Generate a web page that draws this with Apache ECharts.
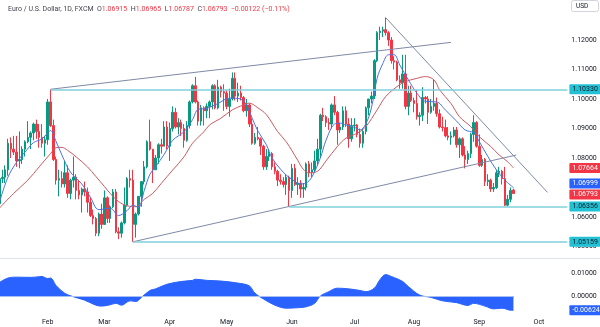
<!DOCTYPE html>
<html><head><meta charset="utf-8">
<script src="https://cdn.jsdelivr.net/npm/echarts/dist/echarts.min.js"></script>
<style>html,body{margin:0;padding:0;background:#fff}#c{width:600px;height:327px}</style>
</head><body><div id="c"></div>
<script>
// ---- categories: trading days (weekdays) ----
const firstDay = '2023-01-09';
const lastDay = '2023-10-16';

// ---- daily candles, Jan 9 .. Sep 19 2023 (one line per week) ----
const opens = [
1.0645,1.0730,1.0735,1.0760,1.0850, 1.0830,1.0820,1.0790,1.0795,1.0830, 1.0855,1.0870,1.0885,1.0915,1.0890, 1.0870,1.0850,1.0862,1.0990,1.0910,
1.0795,1.0725,1.0730,1.0712,1.0750, 1.0680,1.0725,1.0735,1.0690,1.0675, 1.0695,1.0685,1.0650,1.0605,1.0595, 1.0545,1.0610,1.0575,1.0665,1.0595,
1.0635,1.0685,1.0550,1.0545,1.0580, 1.0640,1.0730,1.0725,1.0575,1.0610, 1.0670,1.0720,1.0770,1.0855,1.0830, 1.0760,1.0800,1.0845,1.0840,1.0905,
1.0840,1.0900,1.0955,1.0905,1.0920, 1.0900,1.0860,1.0910,1.0990,1.1045, 1.0990,1.0925,1.0970,1.0960,1.0975, 1.0990,1.1045,1.0970,1.1040,1.1025,
1.1020,1.0975,1.1000,1.1070,1.1010, 1.1020,1.1005,1.0960,1.0980,1.0915, 1.0850,1.0870,1.0865,1.0840,1.0770, 1.0805,1.0815,1.0770,1.0755,1.0725,
1.0720,1.0710,1.0735,1.0690,1.0765, 1.0710,1.0715,1.0695,1.0700,1.0780, 1.0750,1.0760,1.0790,1.0830,1.0945, 1.0940,1.0920,1.0915,1.0980,1.0955,
1.0895,1.0905,1.0960,1.0915,1.0865, 1.0910,1.0912,1.0880,1.0850,1.0890, 1.0970,1.1000,1.1010,1.1130,1.1225, 1.1230,1.1235,1.1225,1.1200,1.1130,
1.1125,1.1065,1.1055,1.1085,1.0975, 1.1020,1.0995,1.0985,1.0940,1.0945, 1.1005,1.1000,1.0955,1.0975,1.0985, 1.0950,1.0905,1.0903,1.0875,1.0870,
1.0875,1.0895,1.0845,1.0865,1.0810, 1.0795,1.0815,1.0880,1.0920,1.0840, 1.0775,1.0795,1.0720,1.0725,1.0695, 1.0700,1.0750,1.0755,1.0730,1.0640,
1.0660,1.06915
];
const highs = [
1.0760,1.0760,1.0775,1.0865,1.0870, 1.0875,1.0875,1.0890,1.0840,1.0860, 1.0925,1.0890,1.0920,1.0930,1.0915, 1.0915,1.0875,1.1000,1.1033,1.0930,
1.0805,1.0760,1.0755,1.0790,1.0775, 1.0730,1.0805,1.0745,1.0725,1.0700, 1.0720,1.0700,1.0665,1.0625,1.0600, 1.0615,1.0645,1.0690,1.0670,1.0640,
1.0695,1.0695,1.0565,1.0585,1.0700, 1.0735,1.0760,1.0760,1.0615,1.0670, 1.0720,1.0790,1.0860,1.0930,1.0830, 1.0810,1.0850,1.0865,1.0925,1.0925,
1.0920,1.0975,1.0970,1.0935,1.0930, 1.0915,1.0925,1.0995,1.1050,1.1075, 1.0995,1.0980,1.0975,1.0985,1.0995, 1.1050,1.1050,1.1065,1.1045,1.1050,
1.1030,1.1035,1.1090,1.1090,1.1055, 1.1045,1.1010,1.1000,1.0985,1.0935, 1.0885,1.0905,1.0870,1.0845,1.0830, 1.0830,1.0820,1.0785,1.0760,1.0745,
1.0735,1.0745,1.0740,1.0780,1.0780, 1.0735,1.0725,1.0715,1.0785,1.0790, 1.0785,1.0825,1.0865,1.0950,1.0970, 1.0945,1.0935,1.0985,1.1010,1.0960,
1.0920,1.0975,1.0975,1.0935,1.0935, 1.0935,1.0915,1.0900,1.0900,1.0975, 1.1000,1.1025,1.1135,1.1230,1.1245, 1.1245,1.1276,1.1230,1.1210,1.1145,
1.1130,1.1080,1.1150,1.1150,1.1045, 1.1045,1.1005,1.1030,1.0955,1.1040, 1.1010,1.1010,1.1000,1.1065,1.1005, 1.0965,1.0940,1.0930,1.0905,1.0890,
1.0905,1.0905,1.0870,1.0870,1.0840, 1.0825,1.0885,1.0945,1.0925,1.0880, 1.0810,1.0800,1.0745,1.0730,1.0715, 1.0760,1.0770,1.0760,1.0770,1.0675,
1.0700,1.06965
];
const lows = [
1.0640,1.0715,1.0715,1.0740,1.0800, 1.0810,1.0770,1.0765,1.0780,1.0805, 1.0850,1.0830,1.0860,1.0865,1.0835, 1.0835,1.0805,1.0845,1.0905,1.0790,
1.0710,1.0670,1.0700,1.0700,1.0665, 1.0660,1.0700,1.0660,1.0660,1.0615, 1.0670,1.0615,1.0600,1.0575,1.0535, 1.0535,1.0560,1.0575,1.0580,1.0580,
1.0630,1.0545,1.0525,1.0530,1.0575, 1.0635,1.0700,1.05159,1.0530,1.0605, 1.0635,1.0710,1.0765,1.0825,1.0715, 1.0760,1.0780,1.0815,1.0840,1.0830,
1.0790,1.0890,1.0900,1.0880,1.0875, 1.0835,1.0855,1.0900,1.0985,1.0985, 1.0910,1.0910,1.0910,1.0935,1.0935, 1.0965,1.0965,1.0965,1.1005,1.0960,
1.0965,1.0940,1.0995,1.0995,1.0990, 1.0995,1.0955,1.0940,1.0905,1.0845, 1.0845,1.0860,1.0810,1.0760,1.0760, 1.0790,1.0760,1.0745,1.0705,1.0710,
1.0700,1.0675,1.06356,1.0665,1.0705, 1.0675,1.0665,1.0665,1.0690,1.0735, 1.0735,1.0750,1.0775,1.0800,1.0925, 1.0905,1.0895,1.0900,1.0945,1.0845,
1.0885,1.0895,1.0905,1.0835,1.0855, 1.0890,1.0870,1.0835,1.0835,1.0880, 1.0945,1.0985,1.1000,1.1125,1.1200, 1.1210,1.1215,1.1180,1.1120,1.1100,
1.1060,1.1035,1.1035,1.0965,1.0945, 1.0990,1.0955,1.0930,1.0910,1.0925, 1.0985,1.0915,1.0950,1.0960,1.0940, 1.0900,1.0890,1.0870,1.0860,1.0845,
1.0870,1.0835,1.0800,1.0805,1.0765, 1.0780,1.0800,1.0855,1.0835,1.0770, 1.0770,1.0705,1.0705,1.0685,1.0685, 1.0695,1.0735,1.0710,1.0637,1.0636,
1.0650,1.06787
];
const closes = [
1.0730,1.0735,1.0760,1.0850,1.0830, 1.0820,1.0790,1.0795,1.0830,1.0855, 1.0870,1.0885,1.0915,1.0890,1.0870, 1.0850,1.0862,1.0990,1.0910,1.0795,
1.0725,1.0730,1.0712,1.0750,1.0680, 1.0725,1.0735,1.0690,1.0675,1.0695, 1.0685,1.0650,1.0605,1.0595,1.0545, 1.0610,1.0575,1.0665,1.0595,1.0635,
1.0685,1.0550,1.0545,1.0580,1.0640, 1.0730,1.0725,1.0575,1.0610,1.0670, 1.0720,1.0770,1.0855,1.0830,1.0760, 1.0800,1.0845,1.0840,1.0905,1.0840,
1.0900,1.0955,1.0905,1.0920,1.0900, 1.0860,1.0910,1.0990,1.1045,1.0990, 1.0925,1.0970,1.0960,1.0975,1.0990, 1.1045,1.0970,1.1040,1.1025,1.1020,
1.0975,1.1000,1.1070,1.1010,1.1020, 1.1005,1.0960,1.0980,1.0915,1.0850, 1.0870,1.0865,1.0840,1.0770,1.0805, 1.0815,1.0770,1.0755,1.0725,1.0720,
1.0710,1.0735,1.0690,1.0765,1.0710, 1.0715,1.0695,1.0700,1.0780,1.0750, 1.0760,1.0790,1.0830,1.0945,1.0940, 1.0920,1.0915,1.0980,1.0955,1.0895,
1.0905,1.0960,1.0915,1.0865,1.0910, 1.0912,1.0880,1.0850,1.0890,1.0970, 1.1000,1.1010,1.1130,1.1225,1.1230, 1.1235,1.1225,1.1200,1.1130,1.1125,
1.1065,1.1055,1.1085,1.0975,1.1020, 1.0995,1.0985,1.0940,1.0945,1.1005, 1.1000,1.0955,1.0975,1.0985,1.0950, 1.0905,1.0903,1.0875,1.0870,1.0875,
1.0895,1.0845,1.0865,1.0810,1.0795, 1.0815,1.0880,1.0920,1.0840,1.0775, 1.0795,1.0720,1.0725,1.0695,1.0700, 1.0750,1.0755,1.0730,1.0640,1.0660,
1.0690,1.06793
];

const fastMaDates = ['2023-01-09','2023-01-12','2023-01-17','2023-01-20','2023-01-25','2023-01-30','2023-02-01','2023-02-02','2023-02-06','2023-02-08','2023-02-13','2023-02-17','2023-02-22','2023-02-27','2023-03-03','2023-03-08','2023-03-13','2023-03-15','2023-03-17','2023-03-21','2023-03-23','2023-03-27','2023-03-30','2023-04-04','2023-04-10','2023-04-13','2023-04-17','2023-04-20','2023-04-26','2023-05-02','2023-05-08','2023-05-10','2023-05-12','2023-05-16','2023-05-19','2023-05-23','2023-05-26','2023-05-30','2023-06-01','2023-06-06','2023-06-08','2023-06-12','2023-06-15','2023-06-19','2023-06-22','2023-06-26','2023-06-28','2023-07-03','2023-07-05','2023-07-07','2023-07-11','2023-07-13','2023-07-17','2023-07-19','2023-07-21','2023-07-25','2023-07-28','2023-08-02','2023-08-07','2023-08-11','2023-08-16','2023-08-22','2023-08-25','2023-08-30','2023-09-01','2023-09-06','2023-09-11','2023-09-14','2023-09-19'];
const fastMaValues = [1.0650,1.0735,1.0785,1.0820,1.0852,1.0865,1.0885,1.0893,1.0855,1.0810,1.0752,1.0712,1.0668,1.0625,1.0630,1.0605,1.0622,1.0640,1.0632,1.0690,1.0745,1.0771,1.0812,1.0860,1.0889,1.0930,1.0965,1.0968,1.0985,1.1003,1.1000,1.0980,1.0935,1.0892,1.0845,1.0800,1.0762,1.0742,1.0728,1.0712,1.0715,1.0735,1.0800,1.0860,1.0915,1.0918,1.0912,1.0904,1.0895,1.0915,1.0970,1.1070,1.1120,1.1150,1.1150,1.1115,1.1065,1.1020,1.0992,1.0990,1.0963,1.0925,1.0895,1.0885,1.0855,1.0805,1.0760,1.0725,1.06999];

const slowMaDates = ['2023-01-09','2023-01-16','2023-01-23','2023-01-27','2023-02-02','2023-02-06','2023-02-08','2023-02-10','2023-02-15','2023-02-21','2023-02-24','2023-03-01','2023-03-03','2023-03-08','2023-03-13','2023-03-16','2023-03-21','2023-03-24','2023-03-29','2023-04-04','2023-04-10','2023-04-13','2023-04-19','2023-04-21','2023-04-27','2023-05-03','2023-05-09','2023-05-11','2023-05-16','2023-05-19','2023-05-25','2023-05-30','2023-06-05','2023-06-07','2023-06-09','2023-06-14','2023-06-19','2023-06-23','2023-06-28','2023-07-04','2023-07-07','2023-07-13','2023-07-18','2023-07-24','2023-07-27','2023-08-02','2023-08-07','2023-08-10','2023-08-14','2023-08-18','2023-08-23','2023-08-29','2023-09-01','2023-09-07','2023-09-12','2023-09-15','2023-09-19'];
const slowMaValues = [1.0630,1.0680,1.0725,1.0770,1.0815,1.0835,1.0836,1.0826,1.0804,1.0770,1.0737,1.0703,1.0680,1.0652,1.0638,1.0635,1.0660,1.0680,1.0714,1.0759,1.0804,1.0850,1.0889,1.0912,1.0935,1.0963,1.0980,1.0986,1.0970,1.0947,1.0889,1.0855,1.0793,1.0762,1.0750,1.0755,1.0790,1.0839,1.0867,1.0884,1.0906,1.0963,1.1008,1.1042,1.1059,1.1070,1.1076,1.1065,1.1031,1.0985,1.0940,1.0906,1.0872,1.0839,1.0810,1.0787,1.07664];

// ---- lower pane oscillator, read at sampled dates ----
const oscDates = ['2023-01-09','2023-01-12','2023-01-17','2023-01-24','2023-01-27','2023-01-30','2023-01-31','2023-02-01','2023-02-02','2023-02-06','2023-02-09','2023-02-14','2023-02-20','2023-02-24','2023-02-28','2023-03-03','2023-03-07','2023-03-09','2023-03-14','2023-03-16','2023-03-20','2023-03-23','2023-03-27','2023-03-31','2023-04-07','2023-04-13','2023-04-14','2023-04-20','2023-04-27','2023-05-05','2023-05-11','2023-05-15','2023-05-18','2023-05-24','2023-05-30','2023-06-05','2023-06-08','2023-06-13','2023-06-15','2023-06-20','2023-06-23','2023-06-29','2023-07-05','2023-07-07','2023-07-12','2023-07-14','2023-07-18','2023-07-20','2023-07-26','2023-07-28','2023-08-03','2023-08-09','2023-08-15','2023-08-22','2023-08-28','2023-08-30','2023-09-05','2023-09-08','2023-09-13','2023-09-18','2023-09-19'];
const oscValues = [0.0059,0.0078,0.0082,0.0081,0.0084,0.0085,0.0080,0.0076,0.0078,0.0045,0.0012,-0.0003,-0.0018,-0.0040,-0.0044,-0.0038,-0.0032,-0.0040,-0.0021,-0.0024,-0.0006,0.0024,0.0031,0.0051,0.0063,0.0068,0.0073,0.0068,0.0065,0.0056,0.0044,0.0012,-0.0013,-0.0040,-0.0053,-0.0051,-0.0047,-0.0032,0.0000,0.0019,0.0034,0.0031,0.0024,0.0019,0.0034,0.0071,0.0093,0.0085,0.0063,0.0041,0.0004,-0.0006,-0.0021,-0.0029,-0.0041,-0.0032,-0.0044,-0.0056,-0.0053,-0.0062,-0.00624];

// ---- drawn lines: [startDate, startPrice, endDate, endPrice] ----
const upperChannel = ['2023-02-02', 1.1033, '2023-08-18', 1.1192];
const lowerChannel = ['2023-03-15', 1.05159, '2023-09-20', 1.0810];
const downTrend = ['2023-07-18', 1.1276, '2023-10-05', 1.06834];
const levelValues = [1.10330, 1.06356, 1.05159];
const levelStarts = ['2023-02-02', '2023-05-31', '2023-03-15'];

// ---- axis labels ----
const monthStarts = ['2023-02-01','2023-03-01','2023-04-03','2023-05-01','2023-06-01','2023-07-03','2023-08-01','2023-09-01','2023-10-02'];
const monthNames = ['Feb','Mar','Apr','May','Jun','Jul','Aug','Sep','Oct'];
const priceLabelValues = [1.07664, 1.06999, 1.06793];
const oscLastValue = -0.00624;

// ---------------------------------------------------------------
const cats = [];
{
  const d = new Date(firstDay + 'T00:00:00Z');
  const end = new Date(lastDay + 'T00:00:00Z');
  while (d <= end) {
    const wd = d.getUTCDay();
    if (wd !== 0 && wd !== 6) cats.push(d.toISOString().slice(0, 10));
    d.setUTCDate(d.getUTCDate() + 1);
  }
}
const lastCat = cats[cats.length - 1];
const lastBar = cats[closes.length - 1];
const candleData = opens.map((o, i) => [o, closes[i], lows[i], highs[i]]);
function sampled(dates, vals) {
  const m = new Map(dates.map((d, i) => [d, vals[i]]));
  return cats.map(c => (m.has(c) ? m.get(c) : null));
}
const monthMap = new Map(monthStarts.map((d, i) => [d, monthNames[i]]));

const FONT = 'Roboto, "Noto Sans", sans-serif';
const TXT = '#131722';
const UP = '#089981', DOWN = '#f23645';
const CLEAR = 'rgba(255,255,255,0)';
const trendStyle = { color: '#7e8aa5', width: 1, type: 'solid', opacity: 1 };
const levelStyle = { color: '#7fd0da', width: 1.5, type: 'solid', opacity: 1 };
function boxLabel(text, bg, fg, dy) {
  return { show: true, position: 'end', distance: 2, formatter: text, backgroundColor: bg, color: fg, opacity: 1,
    fontSize: 7, fontFamily: FONT, padding: [2, 3, 1, 3], borderRadius: 1, offset: [0, dy || 0] };
}
const fmt5 = v => v.toFixed(5);

const mainLines = [
  [{ coord: [upperChannel[0], upperChannel[1]], lineStyle: trendStyle }, { coord: [upperChannel[2], upperChannel[3]] }],
  [{ coord: [lowerChannel[0], lowerChannel[1]], lineStyle: trendStyle }, { coord: [lowerChannel[2], lowerChannel[3]] }],
  [{ coord: [downTrend[0], downTrend[1]], lineStyle: trendStyle }, { coord: [downTrend[2], downTrend[3]] }]
];
levelValues.forEach((v, i) => {
  mainLines.push([{ coord: [levelStarts[i], v], lineStyle: levelStyle, label: boxLabel(fmt5(v), '#22c1d3', TXT) },
                  { coord: [lastCat, v] }]);
});
const priceLabelColors = ['#f23645', '#2962ff', '#f23645'];
const priceLabelDy = [0, -4, 1];
priceLabelValues.forEach((v, i) => {
  mainLines.push([{ coord: [lastBar, v], lineStyle: { color: CLEAR, width: 1, opacity: 1 }, label: boxLabel(fmt5(v), priceLabelColors[i], '#ffffff', priceLabelDy[i]) },
                  { coord: [lastCat, v] }]);
});

const chart = echarts.init(document.getElementById('c'), null, { renderer: 'canvas', width: 600, height: 327 });
chart.setOption({
  animation: false,
  backgroundColor: '#ffffff',
  title: {
    left: 3, top: 1,
    text: '{t|Euro / U.S. Dollar, 1D, FXCM}  {k|O}{v|1.06915}  {k|H}{v|1.06965}  {k|L}{v|1.06787}  {k|C}{v|1.06793}  {v|−0.00122 (−0.11%)}',
    textStyle: { fontSize: 7, fontWeight: 'normal', fontFamily: FONT,
      rich: { t: { color: '#434651', fontSize: 7, fontFamily: FONT }, k: { color: '#434651', fontSize: 7, fontFamily: FONT }, v: { color: DOWN, fontSize: 7, fontFamily: FONT } } }
  },
  grid: [
    { left: -2, right: 31.2, top: 10.5, height: 236, containLabel: false, outerBoundsMode: 'none' },
    { left: -2, right: 31.2, top: 261.5, height: 57.5, containLabel: false, outerBoundsMode: 'none' }
  ],
  xAxis: [
    { type: 'category', gridIndex: 0, data: cats, boundaryGap: true,
      axisLine: { show: false }, axisTick: { show: false }, axisLabel: { show: false }, splitLine: { show: false } },
    { type: 'category', gridIndex: 1, data: cats, boundaryGap: true,
      axisLine: { show: false }, axisTick: { show: false }, splitLine: { show: false },
      axisLabel: { show: true, interval: (idx, val) => monthMap.has(val), formatter: v => monthMap.get(v) || '',
        fontSize: 7, color: TXT, fontFamily: FONT, margin: 0 } }
  ],
  yAxis: [
    { type: 'value', gridIndex: 0, position: 'right', min: 1.05, max: 1.13, interval: 0.01,
      axisLine: { show: false }, axisTick: { show: false }, splitLine: { show: false },
      axisLabel: { align: 'right', margin: 28, fontSize: 7, color: TXT, fontFamily: FONT,
        formatter: v => (Math.abs(v - 1.13) < 1e-6 || Math.abs(v - 1.07) < 1e-6) ? '' : fmt5(v) } },
    { type: 'value', gridIndex: 1, position: 'right', min: -0.01, max: 0.015, interval: 0.01,
      axisLine: { show: false }, axisTick: { show: false }, splitLine: { show: false },
      axisLabel: { align: 'right', margin: 28, fontSize: 7, color: TXT, fontFamily: FONT,
        formatter: v => (Math.abs(v) < 1e-9 || Math.abs(v - 0.01) < 1e-9) ? fmt5(Math.abs(v) < 1e-9 ? 0 : v) : '' } }
  ],
  graphic: [
    { type: 'line', shape: { x1: 0, y1: 258.5, x2: 600, y2: 258.5 }, style: { stroke: '#e0e3eb', lineWidth: 1 }, silent: true },
    { type: 'rect', shape: { x: 571.5, y: 0.5, width: 27, height: 11, r: 2 }, style: { fill: '#ffffff', stroke: '#d1d4dc', lineWidth: 1 }, silent: true },
    { type: 'text', style: { x: 576, y: 6.5, text: 'USD', fontSize: 6.5, fill: TXT, fontFamily: FONT, verticalAlign: 'middle' }, silent: true }
  ],
  series: [
    { type: 'candlestick', xAxisIndex: 0, yAxisIndex: 0, data: candleData, barWidth: 2, clip: false,
      itemStyle: { color: UP, color0: DOWN, borderColor: UP, borderColor0: DOWN, borderColorDoji: UP, borderWidth: 1 },
      markLine: { symbol: ['none', 'none'], silent: true, animation: false, label: { show: false }, emphasis: { disabled: true }, data: mainLines } },
    { type: 'line', xAxisIndex: 0, yAxisIndex: 0, data: sampled(slowMaDates, slowMaValues), connectNulls: true, smooth: 0.35,
      showSymbol: false, clip: false, lineStyle: { color: '#cc5a62', width: 1 }, silent: true },
    { type: 'line', xAxisIndex: 0, yAxisIndex: 0, data: sampled(fastMaDates, fastMaValues), connectNulls: true, smooth: 0.35,
      showSymbol: false, clip: false, lineStyle: { color: '#4a72e0', width: 1 }, silent: true },
    { type: 'line', xAxisIndex: 1, yAxisIndex: 1, data: sampled(oscDates, oscValues), connectNulls: true, smooth: 0.35,
      showSymbol: false, clip: false, lineStyle: { color: '#2962ff', width: 1 }, areaStyle: { color: '#2962ff', opacity: 1 }, silent: true,
      markLine: { symbol: ['none', 'none'], silent: true, animation: false, label: { show: false },
        data: [
          [{ coord: [oscDates[0], 0], lineStyle: { color: '#a8bff2', width: 1, type: 'solid' } }, { coord: [lastBar, 0] }],
          [{ coord: [lastBar, oscLastValue], lineStyle: { color: CLEAR, width: 1, opacity: 1 }, label: boxLabel(fmt5(oscLastValue), '#2962ff', '#ffffff') }, { coord: [lastCat, oscLastValue] }]
        ] } }
  ]
});
</script>
</body></html>
